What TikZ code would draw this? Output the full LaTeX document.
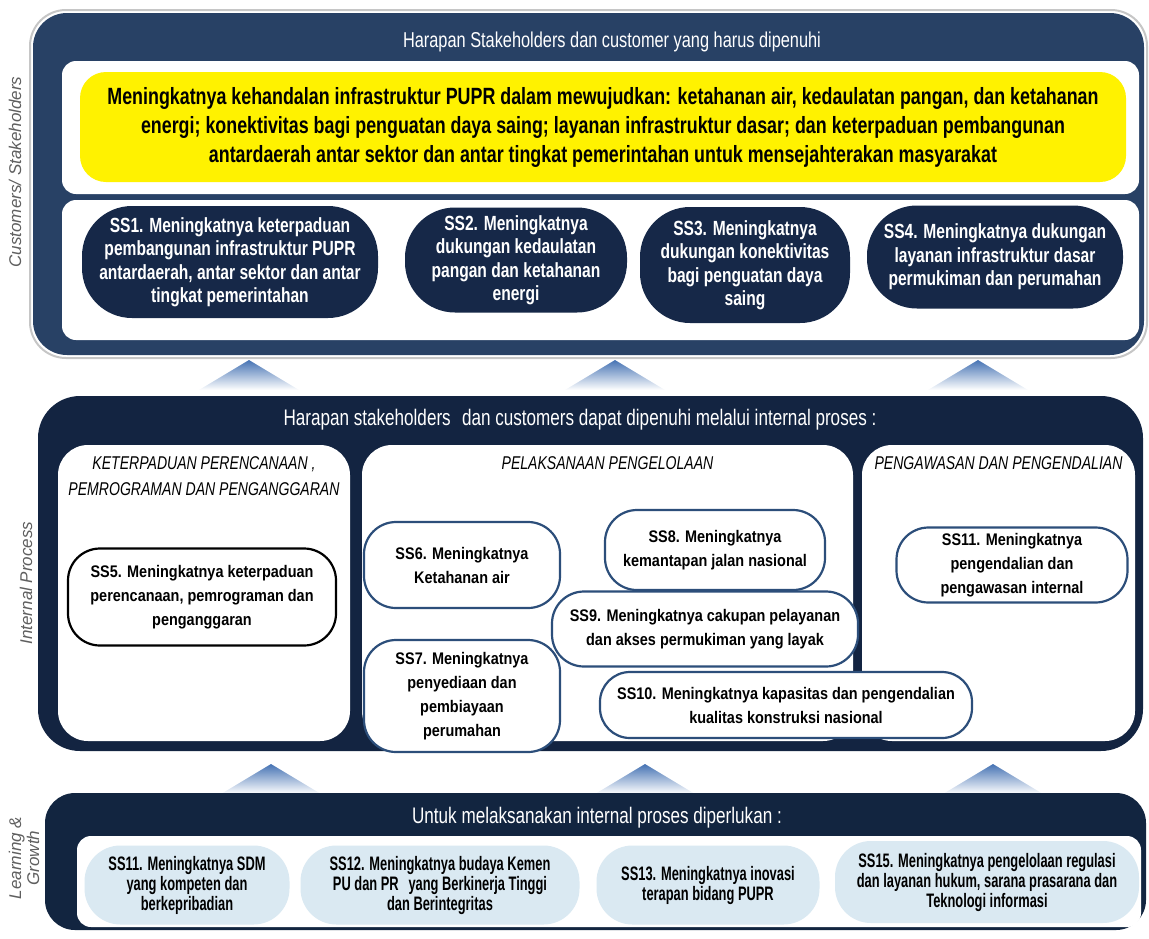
\documentclass[tikz,border=0pt]{standalone}
\usepackage{fontspec}
\setmainfont{Liberation Sans}
\newfontfamily\narrowsf[FakeStretch=0.76]{Liberation Sans}
\newfontfamily\procsf[FakeStretch=0.86]{Liberation Sans}
\newfontfamily\slimsf[FakeStretch=0.66]{Liberation Sans}
\usetikzlibrary{positioning}
\definecolor{toppanel}{RGB}{40,65,101}
\definecolor{midpanel}{RGB}{19,36,65}
\definecolor{botpanel}{RGB}{18,37,64}
\definecolor{ssdark}{RGB}{22,40,72}
\definecolor{ssblue}{RGB}{44,78,122}
\definecolor{sslight}{RGB}{218,233,242}
\definecolor{sidegray}{RGB}{95,95,95}
\definecolor{triblue}{RGB}{70,115,180}
\begin{document}
\begin{tikzpicture}[x=1pt,y=-1pt,
    panelttl/.style={text=white, font=\narrowsf\fontsize{22.5}{24}\selectfont},
    visionbox/.style={fill=yellow, rounded corners=26pt, minimum width=1046pt, minimum height=110pt, align=center, inner sep=0pt, font=\narrowsf\bfseries\fontsize{23.5}{29}\selectfont},
    darkss/.style={fill=ssdark, text=white, rounded corners=50pt, align=center, inner sep=0pt, font=\narrowsf\bfseries\fontsize{20.5}{23.5}\selectfont},
    subbox/.style={fill=white, rounded corners=30pt, inner sep=0pt},
    secttl/.style={font=\narrowsf\itshape\fontsize{18.5}{26}\selectfont, align=center},
    procss/.style={draw=ssblue, line width=2.2pt, fill=white, rounded corners=32pt, align=center, inner sep=0pt, font=\procsf\bfseries\fontsize{16.8}{24}\selectfont},
    learnss/.style={fill=sslight, rounded corners=36pt, align=center, inner sep=0pt, font=\slimsf\bfseries\fontsize{19.5}{20}\selectfont},
    sidelbl/.style={rotate=90, text=sidegray, align=center, font=\itshape\fontsize{17}{18}\selectfont},
    tri/.style={top color=triblue, bottom color=white}]
    \useasboundingbox (0,0) rectangle (1149,938);

    \node[sidelbl] (custlbl) at (15,172) {Customers/ Stakeholders};
    \node[sidelbl] (proclbl) at (26,583) {Internal Process};
    \node[sidelbl] (learnlbl) at (24,858) {Learning \&\\Growth};

    \draw[gray!45, line width=2pt, rounded corners=36pt] (30,10) rectangle (1147,358);
    \fill[toppanel, rounded corners=34pt] (33,13) rectangle (1144,355);
    \node[panelttl, font=\narrowsf\fontsize{21.5}{24}\selectfont] (tophead) at (612,42) {Harapan Stakeholders dan customer yang harus dipenuhi};
    \fill[white, rounded corners=14pt] (62,61) rectangle (1139,194);
    \node[visionbox] (vision) at (603,127) {Meningkatnya kehandalan infrastruktur PUPR dalam mewujudkan: ketahanan air, kedaulatan pangan, dan ketahanan\\energi; konektivitas bagi penguatan daya saing; layanan infrastruktur dasar; dan keterpaduan pembangunan\\antardaerah antar sektor dan antar tingkat pemerintahan untuk mensejahterakan masyarakat};
    \fill[white, rounded corners=14pt] (62,200) rectangle (1139,340);
    \node[darkss, minimum width=296pt, minimum height=112pt] (ss1) at (230,262) {SS1. Meningkatnya keterpaduan\\pembangunan infrastruktur PUPR\\antardaerah, antar sektor dan antar\\tingkat pemerintahan};
    \node[darkss, minimum width=222pt, minimum height=105pt] (ss2) at (516,260) {SS2. Meningkatnya\\dukungan kedaulatan\\pangan dan ketahanan\\energi};
    \node[darkss, minimum width=210pt, minimum height=116pt] (ss3) at (745,265) {SS3. Meningkatnya\\dukungan konektivitas\\bagi penguatan daya\\saing};
    \node[darkss, minimum width=256pt, minimum height=103pt] (ss4) at (995,257) {SS4. Meningkatnya dukungan\\layanan infrastruktur dasar\\permukiman dan perumahan};

    \foreach \tx/\ty in {249/360, 615/360, 978/360, 271/764, 645/764, 993/764}
        \shade[tri] (\tx,\ty) -- (\tx-50,\ty+30) -- (\tx+50,\ty+30) -- cycle;

    \fill[midpanel, rounded corners=42pt] (38,396) rectangle (1143,751);
    \node[panelttl] (midhead) at (580,420) {Harapan stakeholders\enspace dan customers dapat dipenuhi melalui internal proses :};
    \node[subbox, minimum width=292pt, minimum height=296pt] (planbox) at (204,593) {};
    \node[subbox, minimum width=491pt, minimum height=296pt] (execbox) at (607.5,593) {};
    \node[subbox, minimum width=273pt, minimum height=296pt] (ctrlbox) at (998.5,593) {};
    \node[secttl, below=8pt of planbox.north] (plantl) {KETERPADUAN PERENCANAAN ,\\PEMROGRAMAN DAN PENGANGGARAN};
    \node[secttl, below=8pt of execbox.north] (exectl) {PELAKSANAAN PENGELOLAAN};
    \node[secttl, below=8pt of ctrlbox.north] (ctrltl) {PENGAWASAN DAN PENGENDALIAN};
    \node[procss, draw=black, minimum width=268pt, minimum height=97pt] (ss5) at (202,597) {SS5. Meningkatnya keterpaduan\\perencanaan, pemrograman dan\\penganggaran};
    \node[procss, minimum width=196pt, minimum height=86pt] (ss6) at (462,565) {SS6. Meningkatnya\\Ketahanan air};
    \node[procss, minimum width=220pt, minimum height=80pt] (ss8) at (715,550) {SS8. Meningkatnya\\kemantapan jalan nasional};
    \node[procss, minimum width=306pt, minimum height=75pt] (ss9) at (705,629) {SS9. Meningkatnya cakupan pelayanan\\dan akses permukiman yang layak};
    \node[procss, minimum width=196pt, minimum height=112pt] (ss7) at (462,696) {SS7. Meningkatnya\\penyediaan dan\\pembiayaan\\perumahan};
    \node[procss, rounded corners=30pt, minimum width=372pt, minimum height=66pt] (ss10) at (786,705) {SS10. Meningkatnya kapasitas dan pengendalian\\kualitas konstruksi nasional};
    \node[procss, minimum width=231pt, minimum height=75pt] (ss11) at (1012,565) {SS11. Meningkatnya\\pengendalian dan\\pengawasan internal};

    \fill[botpanel, rounded corners=30pt] (45,793) rectangle (1146,930);
    \node[panelttl] (bothead) at (597,818) {Untuk melaksanakan internal proses diperlukan :};
    \fill[white, rounded corners=14pt] (77,836) rectangle (1141,927);
    \node[learnss, minimum width=205pt, minimum height=79pt] (ss11b) at (187,885) {SS11. Meningkatnya SDM\\yang kompeten dan\\berkepribadian};
    \node[learnss, minimum width=279pt, minimum height=79pt] (ss12) at (440,885) {SS12. Meningkatnya budaya Kemen\\PU dan PR\enspace yang Berkinerja Tinggi\\dan Berintegritas};
    \node[learnss, minimum width=223pt, minimum height=79pt] (ss13) at (708,885) {SS13. Meningkatnya inovasi\\terapan bidang PUPR};
    \node[learnss, minimum width=304pt, minimum height=82pt] (ss15) at (987,882) {SS15. Meningkatnya pengelolaan regulasi\\dan layanan hukum, sarana prasarana dan\\Teknologi informasi};
\end{tikzpicture}
\end{document}
